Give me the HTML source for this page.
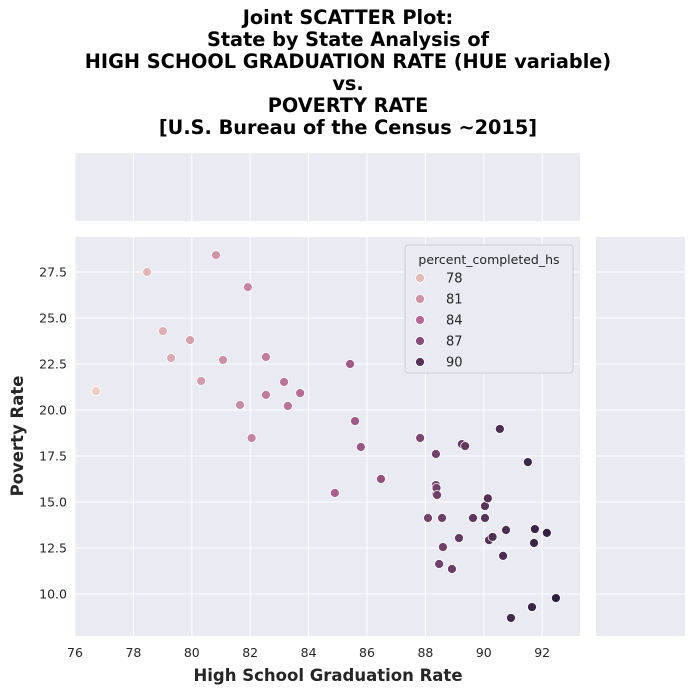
<!DOCTYPE html>
<html><head><meta charset="utf-8"><style>
body{margin:0;background:#fff;font-family:"Liberation Sans","DejaVu Sans",sans-serif;}
svg text{font-family:"DejaVu Sans","Liberation Sans",sans-serif;}
</style></head><body>
<svg id="c" width="693" height="694" xmlns="http://www.w3.org/2000/svg">
<g font-weight="bold" font-size="19.3" text-anchor="middle" fill="#000">
<text x="348" y="24">Joint SCATTER Plot:</text>
<text x="348" y="46">State by State Analysis of</text>
<text x="348" y="68">HIGH SCHOOL GRADUATION RATE (HUE variable)</text>
<text x="348" y="90">vs.</text>
<text x="348" y="112">POVERTY RATE</text>
<text x="348" y="134">[U.S. Bureau of the Census ~2015]</text>
</g>
<rect x="75" y="153" width="505" height="68" fill="#eaeaf2"/>
<rect x="596" y="237" width="89" height="399" fill="#eaeaf2"/>
<rect x="75" y="237" width="505" height="399" fill="#eaeaf2"/>
<g id="grid"></g>
<g id="ticks" font-size="12.5" fill="#262626"></g>
<g id="pts"></g>
<text x="328" y="681" font-size="16.5" font-weight="bold" text-anchor="middle" fill="#262626">High School Graduation Rate</text>
<text transform="translate(23,436) rotate(-90)" font-size="16.5" font-weight="bold" text-anchor="middle" fill="#262626">Poverty Rate</text>
<g id="legend">
<rect x="405" y="245" width="168" height="128" rx="3" fill="#eaeaf2" stroke="#cccccc" opacity="0.9"/>
<text x="489" y="264" font-size="12.5" text-anchor="middle" fill="#262626">percent_completed_hs</text>
</g>
</svg>
<script>
const xs=[76.72,78.47,79.01,79.29,79.94,80.32,80.83,81.07,81.65,81.92,82.05,82.54,82.54,83.16,83.29,83.71,84.90,85.42,85.59,85.79,86.48,87.82,88.36,88.36,88.36,88.38,88.38,88.40,88.09,88.47,88.57,88.60,88.91,89.15,89.25,89.36,89.63,90.04,90.04,90.14,90.18,90.30,90.55,90.76,90.66,90.93,91.51,91.65,91.72,91.75,92.16,92.47];
const ys=[21.03,27.5,24.29,22.83,23.80,21.58,28.42,22.72,20.27,26.68,18.48,22.88,20.82,21.52,20.22,20.92,15.49,22.50,19.40,17.99,16.25,18.48,17.61,15.92,15.43,15.65,15.76,15.38,14.13,11.63,14.13,12.55,11.36,13.04,18.15,18.04,14.13,14.78,14.13,15.2,12.93,13.1,18.97,13.48,12.07,8.7,17.17,9.29,12.77,13.53,13.32,9.78];
const xTicks=[76,78,80,82,84,86,88,90,92];
const yTicks=[10.0,12.5,15.0,17.5,20.0,22.5,25.0,27.5];
const legendVals=[78,81,84,87,90];
const X=v=>75+(v-76)*29.2, Y=v=>272-(v-27.5)*18.4;
const hmin=76.7,hmax=92.5;
function col(v){const t=Math.max(0,Math.min(1,(v-hmin)/(hmax-hmin)));
 const s=[[240,205,192],[176,96,145],[45,30,62]];let a,b,u;
 if(t<.5){a=s[0];b=s[1];u=t/.5}else{a=s[1];b=s[2];u=(t-.5)/.5}
 return `rgb(${a.map((c,i)=>Math.round(c+(b[i]-c)*u)).join(',')})`;}
const NS="http://www.w3.org/2000/svg";
function mk(t,at,p){const e=document.createElementNS(NS,t);for(const k in at)e.setAttribute(k,at[k]);p.appendChild(e);return e;}
const g=document.getElementById('grid'),tk=document.getElementById('ticks'),pg=document.getElementById('pts'),lg=document.getElementById('legend');
xTicks.forEach(v=>{
 const l1=mk('line',{x1:X(v),x2:X(v),y1:237,y2:636,stroke:'#fff','stroke-width':1},g);
 
 
 const l2=mk('line',{x1:X(v),x2:X(v),y1:153,y2:221,stroke:'#fff','stroke-width':1},g);
 
 
 const t=mk('text',{x:X(v),y:657,'text-anchor':'middle'},tk);t.textContent=v;
 
 
});
yTicks.forEach(v=>{
 const l1=mk('line',{x1:75,x2:580,y1:Y(v),y2:Y(v),stroke:'#fff','stroke-width':1},g);
 
 
 const l2=mk('line',{x1:596,x2:685,y1:Y(v),y2:Y(v),stroke:'#fff','stroke-width':1},g);
 
 
 const t=mk('text',{x:67,y:Y(v)+4.5,'text-anchor':'end'},tk);t.textContent=v.toFixed(1);
 
 
});
xs.forEach((v,i)=>{
 const c=mk('circle',{cx:X(v),cy:Y(ys[i]),r:4.5,fill:col(v),stroke:'#fff','stroke-width':0.8},pg);
 
 
});
legendVals.forEach((v,i)=>{
 const y=278+i*21;
 const c=mk('circle',{cx:420,cy:y,r:4.5,fill:col(v),stroke:'#fff','stroke-width':0.8},lg);
 
 
 const t=mk('text',{x:446,y:y+4.5,'font-size':13,fill:'#262626'},lg);t.textContent=v;
 
 
});
</script>
</body></html>
